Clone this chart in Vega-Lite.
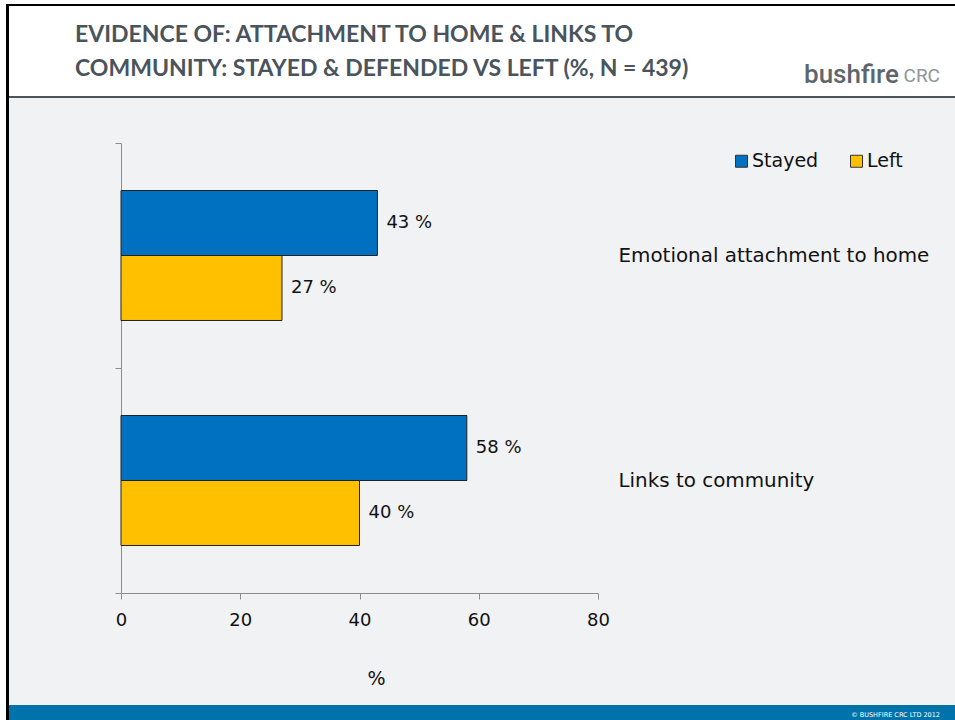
{
  "$schema": "https://vega.github.io/schema/vega-lite/v6.json",
  "background": "#ffffff",
  "padding": {"left": 6, "top": 4, "right": 0, "bottom": 0},
  "spacing": 0,
  "bounds": "flush",
  "config": {
    "view": {"stroke": null},
    "axis": {"grid": false},
    "font": "DejaVu Sans",
    "concat": {"spacing": 0}
  },
  "hconcat": [
    {
      "width": 3,
      "height": 716,
      "view": {"fill": "#000000", "stroke": null},
      "data": {"values": []},
      "mark": {"type": "text", "text": ""}
    },
    {
      "spacing": 0,
      "bounds": "flush",
      "vconcat": [
        {
          "width": 946,
          "height": 2,
          "view": {"fill": "#000000", "stroke": null},
          "data": {"values": []},
          "mark": {"type": "text", "text": ""}
        },
        {
          "width": 946,
          "height": 90,
          "view": {"fill": "#ffffff", "stroke": null},
          "data": {"values": []},
          "mark": {"type": "text", "text": ""},
          "title": {
            "text": ["EVIDENCE OF: ATTACHMENT TO HOME & LINKS TO", "COMMUNITY: STAYED & DEFENDED VS LEFT (%, N = 439)"],
            "anchor": "start",
            "frame": "group",
            "orient": "bottom",
            "offset": -72.2,
            "dx": 66,
            "lineHeight": 34,
            "font": "Lato",
            "fontSize": 23,
            "fontWeight": "bold",
            "color": "#4A545C"
          }
        },
        {
          "width": 946,
          "height": 2,
          "view": {"fill": "#4A545C", "stroke": null},
          "data": {"values": []},
          "mark": {"type": "text", "text": ""},
          "title": {
            "text": "bushfire",
            "anchor": "end",
            "frame": "group",
            "orient": "top",
            "offset": 8,
            "dx": -56,
            "font": "Roboto",
            "fontSize": 26,
            "fontWeight": 500,
            "color": "#5E666D"
          }
        },
        {
          "width": 946,
          "height": 607,
          "view": {"fill": "#F1F2F4", "stroke": null},
          "title": {
            "text": "CRC",
            "anchor": "end",
            "frame": "group",
            "orient": "top",
            "offset": 12.5,
            "dx": -15,
            "font": "Roboto",
            "fontSize": 19,
            "fontWeight": "normal",
            "color": "#8E959B"
          },
          "data": {
            "values": [
              {"category": "Emotional attachment to home", "group": "Stayed", "value": 43, "label": "43 %"},
              {"category": "Emotional attachment to home", "group": "Left", "value": 27, "label": "27 %"},
              {"category": "Links to community", "group": "Stayed", "value": 58, "label": "58 %"},
              {"category": "Links to community", "group": "Left", "value": 40, "label": "40 %"}
            ]
          },
          "encoding": {
            "x": {
              "field": "value",
              "type": "quantitative",
              "scale": {"domain": [0, 80], "range": [112, 589], "nice": false, "zero": true},
              "axis": {
                "orient": "bottom",
                "offset": -112,
                "values": [0, 20, 40, 60, 80],
                "tickSize": 6,
                "domainColor": "#8C8C8C",
                "tickColor": "#8C8C8C",
                "labelFontSize": 18,
                "labelColor": "#111111",
                "labelPadding": 12,
                "labelFlush": false,
                "title": "%",
                "titleFontSize": 19,
                "titleFontWeight": "normal",
                "titleColor": "#111111",
                "titleX": 367,
                "titleY": 85,
                "titleBaseline": "middle",
                "titleAlign": "center"
              }
            }
          },
          "layer": [
            {
              "mark": {"type": "bar", "stroke": "#222222", "strokeWidth": 1},
              "encoding": {
                "y": {
                  "field": "category",
                  "type": "nominal",
                  "sort": null,
                  "scale": {"range": [45, 495], "paddingInner": 0, "paddingOuter": 0},
                  "axis": {
                    "orient": "left",
                    "offset": -112,
                    "labels": false,
                    "ticks": true,
                    "tickSize": 6,
                    "tickBand": "extent",
                    "domainColor": "#8C8C8C",
                    "tickColor": "#8C8C8C",
                    "title": null
                  }
                },
                "yOffset": {
                  "field": "group",
                  "type": "nominal",
                  "sort": ["Stayed", "Left"],
                  "scale": {"paddingOuter": 0.7308, "paddingInner": 0}
                },
                "color": {
                  "field": "group",
                  "type": "nominal",
                  "scale": {"domain": ["Stayed", "Left"], "range": ["#0070C0", "#FFC000"]},
                  "legend": {
                    "orient": "none",
                    "legendX": 726,
                    "legendY": 147.5,
                    "direction": "horizontal",
                    "title": null,
                    "symbolType": "square",
                    "symbolSize": 144,
                    "symbolStrokeColor": "#333333",
                    "symbolStrokeWidth": 1,
                    "symbolOpacity": 1,
                    "labelFontSize": 19,
                    "labelColor": "#111111",
                    "labelFont": "DejaVu Sans",
                    "columnPadding": 28,
                    "labelOffset": 1,
                    "padding": 0
                  }
                }
              }
            },
            {
              "mark": {"type": "text", "align": "left", "baseline": "middle", "dx": 9, "fontSize": 18, "color": "#111111"},
              "encoding": {
                "y": {
                  "field": "category",
                  "type": "nominal",
                  "sort": null,
                  "scale": {"range": [45, 495], "paddingInner": 0, "paddingOuter": 0},
                  "axis": {
                    "orient": "right",
                    "offset": -357,
                    "domain": false,
                    "ticks": false,
                    "tickSize": 0,
                    "labelPadding": 20,
                    "labelFontSize": 19.9,
                    "labelColor": "#111111",
                    "labelLimit": 400,
                    "labelAlign": "left",
                    "title": null
                  }
                },
                "yOffset": {
                  "field": "group",
                  "type": "nominal",
                  "sort": ["Stayed", "Left"],
                  "scale": {"paddingOuter": 0.7308, "paddingInner": 0}
                },
                "text": {"field": "label", "type": "nominal"}
              }
            }
          ],
          "resolve": {"axis": {"y": "independent"}}
        },
        {
          "width": 946,
          "height": 15,
          "view": {"fill": "#0073AA", "stroke": null},
          "data": {"values": []},
          "mark": {"type": "text", "text": ""},
          "title": {
            "text": "© BUSHFIRE CRC LTD 2012",
            "anchor": "end",
            "frame": "group",
            "orient": "bottom",
            "offset": -8.1,
            "dx": -15,
            "font": "DejaVu Sans",
            "fontSize": 6.5,
            "fontWeight": "normal",
            "color": "#ffffff"
          }
        }
      ]
    }
  ]
}
